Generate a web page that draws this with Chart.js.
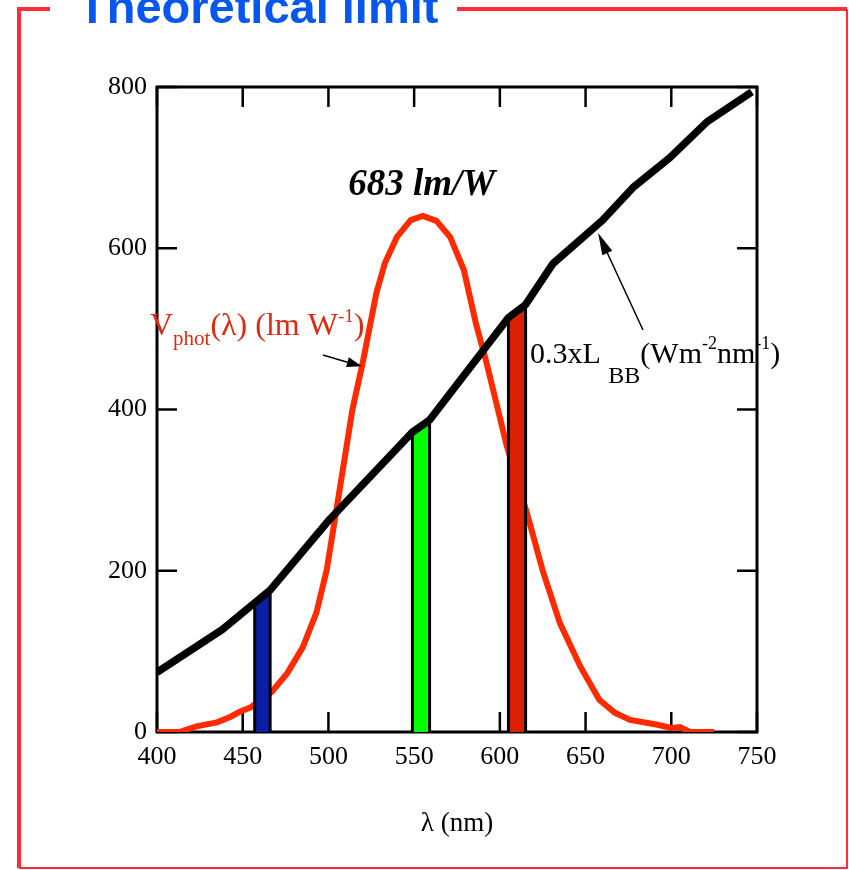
<!DOCTYPE html>
<html>
<head>
<meta charset="utf-8">
<script src="https://cdn.jsdelivr.net/npm/chart.js@4.4.0/dist/chart.umd.min.js"></script>
<style>
  html, body { margin: 0; padding: 0; background: #fff; }
  #wrap { width: 849px; height: 870px; }
</style>
</head>
<body>
<div id="wrap"><canvas id="limitChart" width="849" height="870"></canvas></div>
<script>
// axis ticks
const xTicks = [400, 450, 500, 550, 600, 650, 700, 750];
const yTicks = [0, 200, 400, 600, 800];

// 0.3 x L_BB (W m-2 nm-1)
const bbWavelength = [400, 438, 466, 500, 549, 559, 605, 615, 631, 660, 678, 699, 721, 747];
const bbValues     = [74, 127, 176, 262, 372, 387, 514, 530, 581, 635, 676, 712, 757, 794];

// V_phot(lambda) (lm W-1)
const vWavelength = [400, 413, 423, 435, 443, 448, 455, 467, 476, 485, 493, 499, 505, 514, 520, 528, 533, 540,
                     548, 555, 563, 571, 579, 586, 592, 604, 616, 625, 635, 647, 658, 667, 676, 692, 700, 705, 711, 725];
const vValues     = [0, 0, 7, 12, 19, 25, 31, 50, 73, 105, 148, 201, 280, 400, 458, 545, 582, 614,
                     635, 640, 634, 614, 573, 507, 460, 355, 270, 200, 135, 81, 40, 24, 15, 9, 5, 6, 0, 0];

// colour bands (blue, green, red) under the black-body curve
const bandLeft     = [457, 549, 605];
const bandRight    = [466, 559, 615];
const bandTopLeft  = [161, 372, 514];
const bandTopRight = [175, 385, 530];

const serif = 'Liberation Serif, Times New Roman, serif';

function toPoints(xs, ys) {
  return xs.map((x, i) => ({x: x, y: ys[i]}));
}

function bandPoints(i) {
  return [
    {x: bandLeft[i], y: 0},
    {x: bandLeft[i], y: bandTopLeft[i]},
    {x: bandRight[i], y: bandTopRight[i]},
    {x: bandRight[i], y: 0}
  ];
}

const bandFill = ['#0a1ea6', '#00ff00', '#da2000'];

const datasets = [
  {
    label: '0.3xLBB',
    data: toPoints(bbWavelength, bbValues),
    borderColor: '#000',
    borderWidth: 7.5,
    pointRadius: 0,
    tension: 0,
    fill: false,
    order: 0
  },
  {
    label: 'Vphot',
    data: toPoints(vWavelength, vValues),
    borderColor: '#ff2a00',
    borderWidth: 6,
    pointRadius: 0,
    tension: 0,
    fill: false,
    order: 5
  }
];

bandFill.forEach((c, i) => {
  datasets.push({
    label: 'band' + i,
    data: bandPoints(i),
    borderColor: '#000',
    borderWidth: 3,
    backgroundColor: c,
    pointRadius: 0,
    tension: 0,
    fill: 'origin',
    order: 2
  });
});

// text with sub/superscripts: runs of [text, size, dy]
function drawRuns(ctx, runs, x, y, color, style) {
  ctx.fillStyle = color;
  ctx.textBaseline = 'alphabetic';
  ctx.textAlign = 'left';
  runs.forEach(r => {
    ctx.font = (style || '') + ' ' + r[1] + 'px ' + serif;
    ctx.fillText(r[0], x, y + r[2]);
    x += ctx.measureText(r[0]).width;
  });
}

function drawArrow(ctx, x1, y1, x2, y2, head, half) {
  const ang = Math.atan2(y2 - y1, x2 - x1);
  ctx.strokeStyle = '#000';
  ctx.fillStyle = '#000';
  ctx.lineWidth = 1.5;
  ctx.beginPath();
  ctx.moveTo(x1, y1);
  ctx.lineTo(x2 - head * Math.cos(ang), y2 - head * Math.sin(ang));
  ctx.stroke();
  ctx.beginPath();
  ctx.moveTo(x2, y2);
  ctx.lineTo(x2 - head * Math.cos(ang) + half * Math.sin(ang), y2 - head * Math.sin(ang) - half * Math.cos(ang));
  ctx.lineTo(x2 - head * Math.cos(ang) - half * Math.sin(ang), y2 - head * Math.sin(ang) + half * Math.cos(ang));
  ctx.closePath();
  ctx.fill();
}

const framePlugin = {
  id: 'frame',
  beforeDatasetsDraw(chart) {
    const {ctx, chartArea: a, scales: {x, y}} = chart;
    ctx.save();
    ctx.strokeStyle = '#000';
    ctx.lineWidth = 3;
    ctx.strokeRect(a.left, a.top, a.right - a.left, a.bottom - a.top);
    ctx.lineWidth = 2.5;
    ctx.beginPath();
    xTicks.forEach(v => {
      const px = x.getPixelForValue(v);
      ctx.moveTo(px, a.bottom); ctx.lineTo(px, a.bottom - 20);
      ctx.moveTo(px, a.top); ctx.lineTo(px, a.top + 20);
    });
    yTicks.forEach(v => {
      const py = y.getPixelForValue(v);
      ctx.moveTo(a.left, py); ctx.lineTo(a.left + 20, py);
      ctx.moveTo(a.right, py); ctx.lineTo(a.right - 20, py);
    });
    ctx.stroke();
    ctx.restore();
  },
  afterDraw(chart) {
    const {ctx, scales: {x, y}} = chart;
    const X = v => x.getPixelForValue(v);
    const Y = v => y.getPixelForValue(v);
    ctx.save();

    // red border around the slide panel
    ctx.strokeStyle = '#ff2d3c';
    ctx.lineWidth = 4;
    ctx.beginPath();
    ctx.moveTo(50, 9); ctx.lineTo(19, 9); ctx.lineTo(19, 868);
    ctx.moveTo(457, 9); ctx.lineTo(847, 9);
    ctx.stroke();
    ctx.lineWidth = 2;
    ctx.beginPath();
    ctx.moveTo(847, 9); ctx.lineTo(847, 868); ctx.lineTo(19, 868);
    ctx.stroke();

    // panel heading
    ctx.fillStyle = '#0657ee';
    ctx.font = 'bold 47px Liberation Sans, Arial, sans-serif';
    ctx.textAlign = 'left';
    ctx.textBaseline = 'alphabetic';
    ctx.fillText('Theoretical limit', 78, 23);

    // efficacy label
    ctx.fillStyle = '#000';
    ctx.font = 'italic bold 37px ' + serif;
    ctx.fillText('683 lm/W', X(511.5), Y(666));

    // V_phot label
    drawRuns(ctx, [['V', 32, 0], ['phot', 21, 10], ['(\u03bb) (lm W', 32, 0], ['-1', 19, -13], [')', 32, 0]],
      X(395.9), Y(492.4), '#e02a10');
    drawArrow(ctx, X(496.8), Y(467.6), X(519.5), Y(453.5), 15, 5);

    // black body label
    drawRuns(ctx, [['0.3xL ', 30, 0], ['BB', 24, 20], ['(Wm', 30, 0], ['-2', 18, -14], ['nm', 30, 0], ['-1', 18, -14], [')', 30, 0]],
      X(617.6), Y(457.7), '#000');
    drawArrow(ctx, X(683.5), Y(498.6), X(657.3), Y(618.9), 22, 5.5);

    ctx.restore();
  }
};

new Chart(document.getElementById('limitChart'), {
  type: 'line',
  data: {datasets: datasets},
  options: {
    responsive: false,
    animation: false,
    layout: {padding: {left: 0, top: 87, right: 92, bottom: 30}},
    plugins: {
      legend: {display: false},
      tooltip: {enabled: false},
      title: {display: false}
    },
    scales: {
      x: {
        type: 'linear',
        min: 400,
        max: 750,
        afterBuildTicks: s => { s.ticks = xTicks.map(v => ({value: v})); },
        afterFit: s => { s.height = 108; },
        grid: {display: false, drawTicks: false},
        border: {display: false},
        ticks: {color: '#000', padding: 10, maxRotation: 0, font: {family: serif, size: 26}},
        title: {
          display: true,
          text: '\u03bb (nm)',
          color: '#000',
          font: {family: serif, size: 27},
          padding: {top: 0, bottom: 0}
        }
      },
      y: {
        type: 'linear',
        min: 0,
        max: 800,
        afterBuildTicks: s => { s.ticks = yTicks.map(v => ({value: v})); },
        afterFit: s => { s.width = 157; },
        grid: {display: false, drawTicks: false},
        border: {display: false},
        ticks: {color: '#000', padding: 10, font: {family: serif, size: 26}}
      }
    }
  },
  plugins: [framePlugin]
});
</script>
</body>
</html>
